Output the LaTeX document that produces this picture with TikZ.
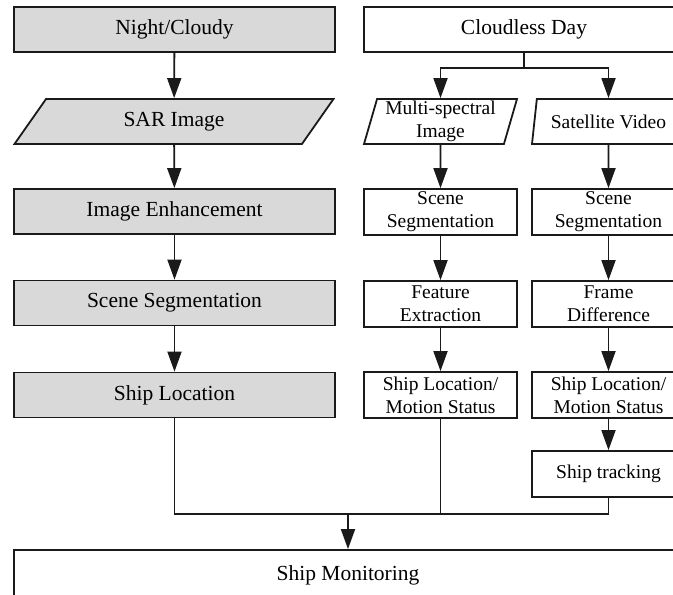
\documentclass[tikz,border=0pt]{standalone}
\usepackage{fontspec}
\setmainfont{Liberation Serif}
\usepackage{xcolor,tikz}
\usetikzlibrary{arrows.meta,positioning,shapes.geometric}
\definecolor{ln}{HTML}{1A1A1A}
\definecolor{gy}{HTML}{D9D9D9}
\newcommand{\bigf}{\fontsize{21.5}{25}\selectfont}
\newcommand{\smf}{\fontsize{19.5}{23}\selectfont}
\tikzset{gb/.style={draw=ln,fill=gy,line width=1.8pt,minimum width=321,minimum height=45,font=\bigf},
 gp/.style={gb,trapezium,trapezium left angle=39,trapezium right angle=141,trapezium stretches body,minimum width=319},
 wb/.style={draw=ln,fill=white,line width=1.8pt,minimum width=320,minimum height=45,font=\bigf},
 sb/.style={draw=ln,fill=white,line width=1.8pt,minimum width=153,minimum height=46,inner sep=1pt,align=center,font=\smf},
 wp/.style={sb,trapezium,trapezium left angle=73,trapezium right angle=107,trapezium stretches body,minimum height=45},
 flow/.style={-{Triangle[length=20pt,width=14pt]},line width=1.8pt,draw=ln},wire/.style={line width=1.8pt,draw=ln}}
\begin{document}
\begin{tikzpicture}[x=1pt,y=-1pt]
\useasboundingbox (0,0) rectangle (673,595);
\clip (0,0) rectangle (673,595);
% night / cloudy branch
\node[gb](nc) at(174.5,29.5){Night/Cloudy};
\node[gp](sar) at(174,121.5){SAR Image};
\node[gb](enh) at(174.5,211.5){Image Enhancement};
\node[gb](seg) at(174.5,303){Scene Segmentation};
\node[gb](loc) at(174.5,395){Ship Location};
\draw[flow](nc)--(sar);
\draw[flow](sar)--(enh);
\draw[flow](enh)--(seg);
\draw[flow](seg)--(loc);
% cloudless day branch
\node[wb](cd) at(524,29.5){Cloudless Day};
\node[wp,minimum width=153](ms) at(440.5,121.5){Multi-spectral\\Image};
\node[wp,minimum width=153](sv) at(608.5,121.5){Satellite Video};
\node[sb](mseg) at(440.5,212){Scene\\Segmentation};
\node[sb](sseg) at(608.5,212){Scene\\Segmentation};
\node[sb](fe) at(440.5,304){Feature\\Extraction};
\node[sb](fd) at(608.5,304){Frame\\Difference};
\node[sb](mloc) at(440.5,395){Ship Location/\\Motion Status};
\node[sb](sloc) at(608.5,395){Ship Location/\\Motion Status};
\node[sb](trk) at(608.5,474){Ship tracking};
\coordinate(sp) at(524,68);
\draw[wire](cd.south)--(sp);
\draw[flow](sp)-|(ms.north);
\draw[flow](sp)-|(sv.north);
\draw[flow](ms)--(mseg);
\draw[flow](sv)--(sseg);
\draw[flow](mseg)--(fe);
\draw[flow](sseg)--(fd);
\draw[flow](fe)--(mloc);
\draw[flow](fd)--(sloc);
\draw[flow](sloc)--(trk);
% merge
\node[wb,minimum width=668,minimum height=50](mon) at(348,575){Ship Monitoring};
\coordinate(j) at(348,514);
\draw[wire](loc.south)|-(j)-|(trk.south);
\draw[wire](mloc.south)--(mloc.south|-j);
\draw[flow](j)--(mon.north);
\end{tikzpicture}
\end{document}
